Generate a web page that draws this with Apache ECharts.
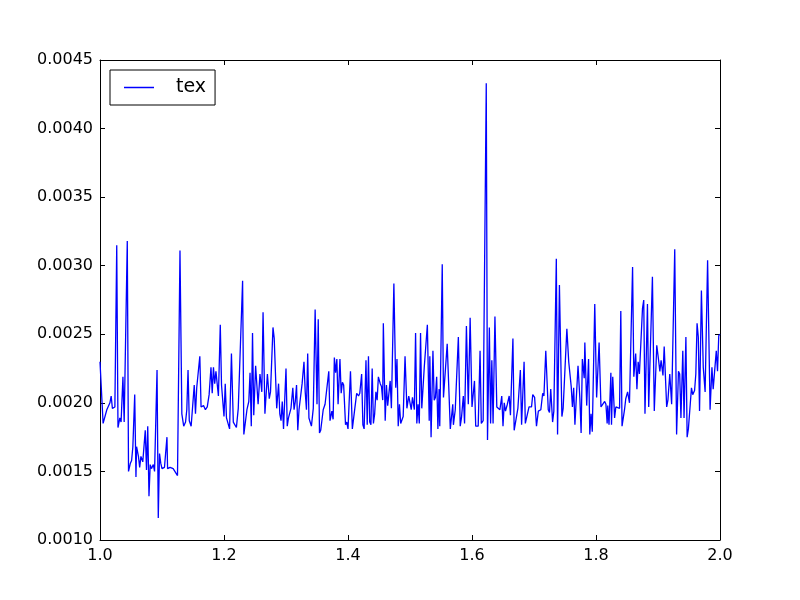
<!DOCTYPE html>
<html>
<head>
<meta charset="utf-8">
<script src="https://cdn.jsdelivr.net/npm/echarts@6/dist/echarts.min.js"></script>
<style>
  html, body { margin: 0; padding: 0; background: #fff; }
  #main { width: 800px; height: 600px; }
</style>
</head>
<body>
<div id="main"></div>
<script>
// x positions of the tex curve
var xValues = [
  1.000,1.005,1.011,1.016,1.018,1.020,1.024,1.027,1.029,1.032,
  1.034,1.037,1.039,1.044,1.046,1.049,1.051,1.053,1.056,1.058,
  1.059,1.062,1.064,1.066,1.069,1.073,1.075,1.077,1.079,1.081,
  1.083,1.086,1.088,1.092,1.094,1.096,1.098,1.100,1.104,1.108,
  1.109,1.113,1.118,1.121,1.125,1.129,1.132,1.135,1.138,1.140,
  1.142,1.144,1.147,1.149,1.152,1.154,1.156,1.158,1.161,1.163,
  1.167,1.170,1.173,1.176,1.179,1.181,1.183,1.185,1.187,1.189,
  1.191,1.194,1.196,1.199,1.200,1.202,1.204,1.207,1.209,1.212,
  1.215,1.218,1.220,1.223,1.226,1.230,1.232,1.237,1.240,1.242,
  1.244,1.246,1.248,1.251,1.253,1.255,1.258,1.261,1.263,1.266,
  1.270,1.273,1.275,1.277,1.279,1.281,1.285,1.288,1.290,1.292,
  1.294,1.296,1.298,1.300,1.302,1.304,1.306,1.308,1.311,1.313,
  1.315,1.317,1.319,1.321,1.324,1.326,1.329,1.331,1.333,1.335,
  1.337,1.341,1.344,1.346,1.347,1.350,1.352,1.354,1.356,1.360,
  1.363,1.366,1.369,1.371,1.374,1.376,1.378,1.380,1.382,1.384,
  1.387,1.389,1.391,1.393,1.396,1.398,1.400,1.404,1.407,1.409,
  1.411,1.414,1.417,1.419,1.422,1.424,1.426,1.429,1.431,1.433,
  1.435,1.437,1.439,1.441,1.443,1.445,1.447,1.449,1.452,1.454,
  1.456,1.457,1.460,1.462,1.464,1.466,1.468,1.470,1.474,1.477,
  1.479,1.481,1.483,1.485,1.489,1.492,1.495,1.498,1.500,1.502,
  1.504,1.507,1.509,1.511,1.513,1.515,1.517,1.519,1.523,1.528,
  1.531,1.532,1.534,1.537,1.539,1.541,1.543,1.545,1.547,1.548,
  1.552,1.554,1.556,1.560,1.565,1.569,1.570,1.573,1.575,1.578,
  1.581,1.583,1.586,1.588,1.591,1.594,1.597,1.600,1.604,1.606,
  1.610,1.613,1.615,1.618,1.623,1.625,1.628,1.630,1.632,1.634,
  1.637,1.640,1.643,1.645,1.648,1.650,1.652,1.654,1.657,1.660,
  1.662,1.666,1.668,1.671,1.674,1.676,1.678,1.680,1.682,1.684,
  1.686,1.689,1.692,1.696,1.698,1.701,1.704,1.707,1.711,1.714,
  1.716,1.719,1.723,1.725,1.727,1.730,1.732,1.736,1.738,1.741,
  1.745,1.747,1.750,1.753,1.756,1.760,1.762,1.764,1.766,1.769,
  1.771,1.774,1.776,1.778,1.781,1.782,1.785,1.788,1.790,1.792,
  1.794,1.798,1.801,1.805,1.808,1.811,1.814,1.816,1.818,1.819,
  1.821,1.824,1.825,1.827,1.830,1.832,1.835,1.838,1.840,1.842,
  1.846,1.848,1.850,1.851,1.854,1.859,1.861,1.864,1.866,1.868,
  1.870,1.875,1.877,1.879,1.883,1.885,1.891,1.894,1.898,1.901,
  1.903,1.905,1.908,1.910,1.914,1.916,1.919,1.922,1.924,1.927,
  1.930,1.933,1.935,1.937,1.940,1.942,1.945,1.947,1.949,1.952,
  1.954,1.956,1.959,1.961,1.963,1.965,1.967,1.970,1.973,1.976,
  1.980,1.984,1.987,1.989,1.992,1.994,1.996,1.998,2.000
];

// tex values
var texValues = [
  0.00230,0.00185,0.00195,0.00200,0.00205,0.00196,0.00197,0.00315,0.00182,0.00189,
  0.00186,0.00219,0.00186,0.00318,0.00150,0.00156,0.00158,0.00168,0.00206,0.00146,
  0.00168,0.00161,0.00153,0.00161,0.00157,0.00180,0.00151,0.00183,0.00132,0.00155,
  0.00152,0.00155,0.00150,0.00224,0.00116,0.00163,0.00156,0.00152,0.00153,0.00175,
  0.00152,0.00153,0.00152,0.00153,0.00147,0.00311,0.00192,0.00183,0.00186,0.00195,
  0.00224,0.00187,0.00183,0.00195,0.00213,0.00192,0.00211,0.00211,0.00234,0.00197,
  0.00198,0.00195,0.00197,0.00206,0.00226,0.00207,0.00226,0.00214,0.00223,0.00222,
  0.00205,0.00257,0.00213,0.00212,0.00190,0.00214,0.00189,0.00188,0.00181,0.00236,
  0.00186,0.00185,0.00182,0.00196,0.00197,0.00289,0.00177,0.00195,0.00201,0.00222,
  0.00183,0.00251,0.00191,0.00227,0.00213,0.00199,0.00221,0.00208,0.00266,0.00192,
  0.00221,0.00203,0.00208,0.00207,0.00255,0.00247,0.00196,0.00214,0.00192,0.00187,
  0.00201,0.00181,0.00181,0.00225,0.00183,0.00189,0.00189,0.00196,0.00211,0.00195,
  0.00201,0.00213,0.00180,0.00195,0.00196,0.00214,0.00230,0.00208,0.00195,0.00236,
  0.00189,0.00183,0.00196,0.00197,0.00268,0.00199,0.00261,0.00178,0.00180,0.00195,
  0.00199,0.00199,0.00223,0.00187,0.00194,0.00188,0.00233,0.00222,0.00232,0.00199,
  0.00232,0.00207,0.00215,0.00213,0.00184,0.00186,0.00181,0.00223,0.00181,0.00181,
  0.00196,0.00207,0.00205,0.00207,0.00221,0.00184,0.00181,0.00231,0.00184,0.00234,
  0.00186,0.00184,0.00225,0.00185,0.00192,0.00208,0.00202,0.00219,0.00214,0.00212,
  0.00202,0.00258,0.00187,0.00213,0.00198,0.00199,0.00216,0.00196,0.00287,0.00211,
  0.00232,0.00183,0.00199,0.00185,0.00190,0.00234,0.00196,0.00205,0.00205,0.00195,
  0.00204,0.00195,0.00251,0.00185,0.00199,0.00185,0.00251,0.00196,0.00226,0.00257,
  0.00187,0.00234,0.00175,0.00238,0.00202,0.00204,0.00219,0.00181,0.00210,0.00183,
  0.00301,0.00204,0.00203,0.00243,0.00181,0.00199,0.00184,0.00195,0.00196,0.00248,
  0.00183,0.00189,0.00205,0.00185,0.00256,0.00199,0.00262,0.00197,0.00216,0.00183,
  0.00183,0.00238,0.00185,0.00187,0.00433,0.00173,0.00255,0.00185,0.00231,0.00185,
  0.00263,0.00197,0.00197,0.00195,0.00205,0.00183,0.00200,0.00194,0.00199,0.00205,
  0.00191,0.00247,0.00180,0.00180,0.00196,0.00196,0.00224,0.00184,0.00185,0.00230,
  0.00185,0.00186,0.00197,0.00197,0.00206,0.00204,0.00183,0.00194,0.00195,0.00207,
  0.00205,0.00238,0.00195,0.00193,0.00210,0.00186,0.00194,0.00305,0.00177,0.00286,
  0.00190,0.00196,0.00197,0.00254,0.00230,0.00212,0.00197,0.00211,0.00184,0.00183,
  0.00227,0.00203,0.00178,0.00232,0.00218,0.00244,0.00198,0.00232,0.00177,0.00192,
  0.00179,0.00272,0.00204,0.00244,0.00197,0.00196,0.00201,0.00199,0.00185,0.00198,
  0.00184,0.00222,0.00184,0.00219,0.00189,0.00197,0.00196,0.00196,0.00267,0.00183,
  0.00195,0.00203,0.00203,0.00208,0.00200,0.00299,0.00219,0.00236,0.00210,0.00230,
  0.00221,0.00269,0.00275,0.00192,0.00272,0.00197,0.00292,0.00194,0.00242,0.00231,
  0.00223,0.00231,0.00220,0.00241,0.00197,0.00202,0.00221,0.00199,0.00199,0.00312,
  0.00177,0.00223,0.00221,0.00189,0.00238,0.00189,0.00248,0.00175,0.00181,0.00199,
  0.00211,0.00206,0.00209,0.00221,0.00258,0.00248,0.00194,0.00282,0.00226,0.00208,
  0.00304,0.00195,0.00226,0.00210,0.00209,0.00238,0.00223,0.00249,0.00250
];

var xRange = [1.0, 2.0];
var yRange = [0.0010, 0.0045];

var font = 'DejaVu Sans';

var texData = xValues.map(function (x, i) { return [x, texValues[i]]; });

function axisBase(extra) {
  var base = {
    type: 'value',
    splitLine: { show: false },
    axisLine: { onZero: false, lineStyle: { color: '#000', width: 1 } },
    axisTick: { inside: true, length: 5, lineStyle: { color: '#000' } }
  };
  return Object.assign(base, extra);
}

var myChart = echarts.init(document.getElementById('main'));
myChart.setOption({
  animation: false,
  backgroundColor: '#fff',
  grid: { left: 100, right: 80, top: 60, bottom: 60, containLabel: false },
  legend: {
    left: 110,
    top: 70,
    data: [{ name: 'tex', icon: 'rect' }],
    itemWidth: 30,
    itemHeight: 1.5,
    padding: [8, 9, 8, 14],
    borderColor: '#000',
    borderWidth: 1,
    borderRadius: 0,
    textStyle: { fontFamily: font, fontSize: 19, color: '#000', padding: [2, 0, 0, 17] }
  },
  xAxis: [
    axisBase({
      min: xRange[0], max: xRange[1], interval: 0.2,
      axisLabel: {
        margin: 8, color: '#000', fontFamily: font, fontSize: 16,
        formatter: function (v) { return v.toFixed(1); }
      }
    }),
    axisBase({
      position: 'top', min: xRange[0], max: xRange[1], interval: 0.2,
      axisLabel: { show: false }
    })
  ],
  yAxis: [
    axisBase({
      min: yRange[0], max: yRange[1], interval: 0.0005,
      axisLabel: {
        margin: 7, color: '#000', fontFamily: font, fontSize: 16,
        formatter: function (v) { return v.toFixed(4); }
      }
    }),
    axisBase({
      position: 'right', min: yRange[0], max: yRange[1], interval: 0.0005,
      axisLabel: { show: false }
    })
  ],
  series: [
    {
      name: 'tex',
      type: 'line',
      xAxisIndex: 0,
      yAxisIndex: 0,
      data: texData,
      symbol: 'none',
      smooth: false,
      sampling: null,
      color: '#0000ff',
      lineStyle: { color: '#0000ff', width: 1.3 }
    }
  ]
});
</script>
</body>
</html>
